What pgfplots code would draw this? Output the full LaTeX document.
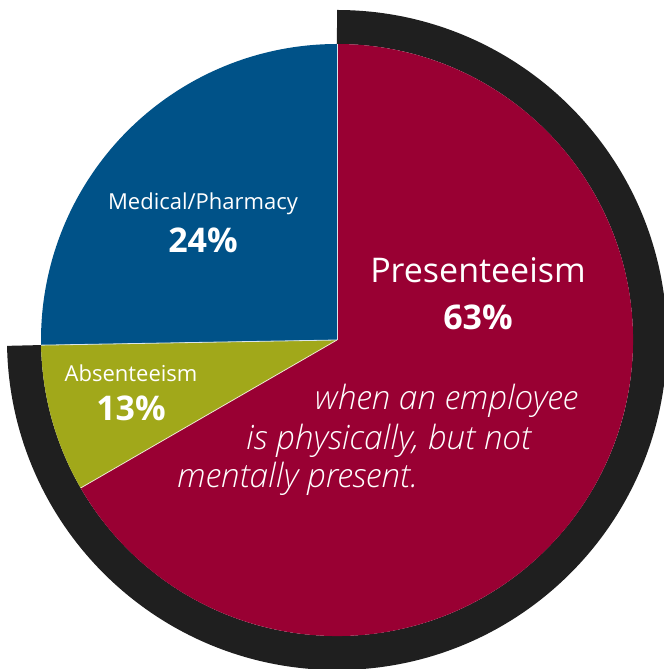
\documentclass[border=0pt]{standalone}
\usepackage{pgfplots}
\pgfplotsset{compat=1.18}
\usepackage{fontspec}
\setmainfont{Open Sans}
\newfontfamily\oslight{Open Sans Light}
\definecolor{presred}{RGB}{153,0,51}
\definecolor{medblue}{RGB}{0,82,136}
\definecolor{absolive}{RGB}{161,168,26}
\definecolor{ringblk}{RGB}{31,31,31}
% pie centre and radius in pixel units (1 unit = 1bp)
\def\cx{337}
\def\cy{329}
\begin{document}
\begin{tikzpicture}
\begin{axis}[
    width=664bp, height=669bp, scale only axis,
    xmin=0, xmax=664, ymin=0, ymax=669,
    hide axis, clip=true,
]
% dark ring round presenteeism + absenteeism
\draw[ringblk, line width=34bp, line cap=butt]
    (axis cs:\cx,\cy) ++(90:313bp) arc[start angle=90, end angle=-179, radius=313bp];
% slices (angles as drawn in the reference)
\fill[medblue]  (axis cs:\cx,\cy) -- ++(90:296bp)  arc[start angle=90,  end angle=181, radius=296bp] -- cycle;
\fill[absolive] (axis cs:\cx,\cy) -- ++(181:296bp) arc[start angle=181, end angle=210, radius=296bp] -- cycle;
\fill[presred]  (axis cs:\cx,\cy) -- ++(210:296bp) arc[start angle=210, end angle=450, radius=296bp] -- cycle;
\draw[white!85!medblue, line width=0.8bp] (axis cs:\cx,\cy) -- ++(90:296bp);
\draw[white!85!medblue, line width=0.8bp] (axis cs:\cx,\cy) -- ++(181:296bp);
\draw[white!80!absolive, line width=0.8bp] (axis cs:\cx,\cy) -- ++(210:296bp);
% labels
\node[white, font=\fontsize{22bp}{26bp}\selectfont] at (axis cs:203,465) {Medical/Pharmacy};
\node[white, font=\fontsize{34bp}{40bp}\selectfont\bfseries] at (axis cs:203,429) {24\%};
\node[white, font=\fontsize{22bp}{26bp}\selectfont] at (axis cs:131,296) {Absenteeism};
\node[white, font=\fontsize{34bp}{40bp}\selectfont\bfseries] at (axis cs:131,261) {13\%};
\node[white, font=\fontsize{34bp}{40bp}\selectfont] at (axis cs:478,399) {Presenteeism};
\node[white, font=\fontsize{34bp}{40bp}\selectfont\bfseries] at (axis cs:478,352) {63\%};
\node[white, anchor=base west, inner sep=0pt, font=\fontsize{33.4bp}{38bp}\selectfont\oslight\itshape] at (axis cs:315,259) {when an employee};
\node[white, anchor=base west, inner sep=0pt, font=\fontsize{33.4bp}{38bp}\selectfont\oslight\itshape] at (axis cs:246,219) {is physically, but not};
\node[white, anchor=base west, inner sep=0pt, font=\fontsize{33.4bp}{38bp}\selectfont\oslight\itshape] at (axis cs:177,181) {mentally present.};
\end{axis}
\path (current axis.south west) rectangle (current axis.north east);
\end{tikzpicture}
\end{document}
